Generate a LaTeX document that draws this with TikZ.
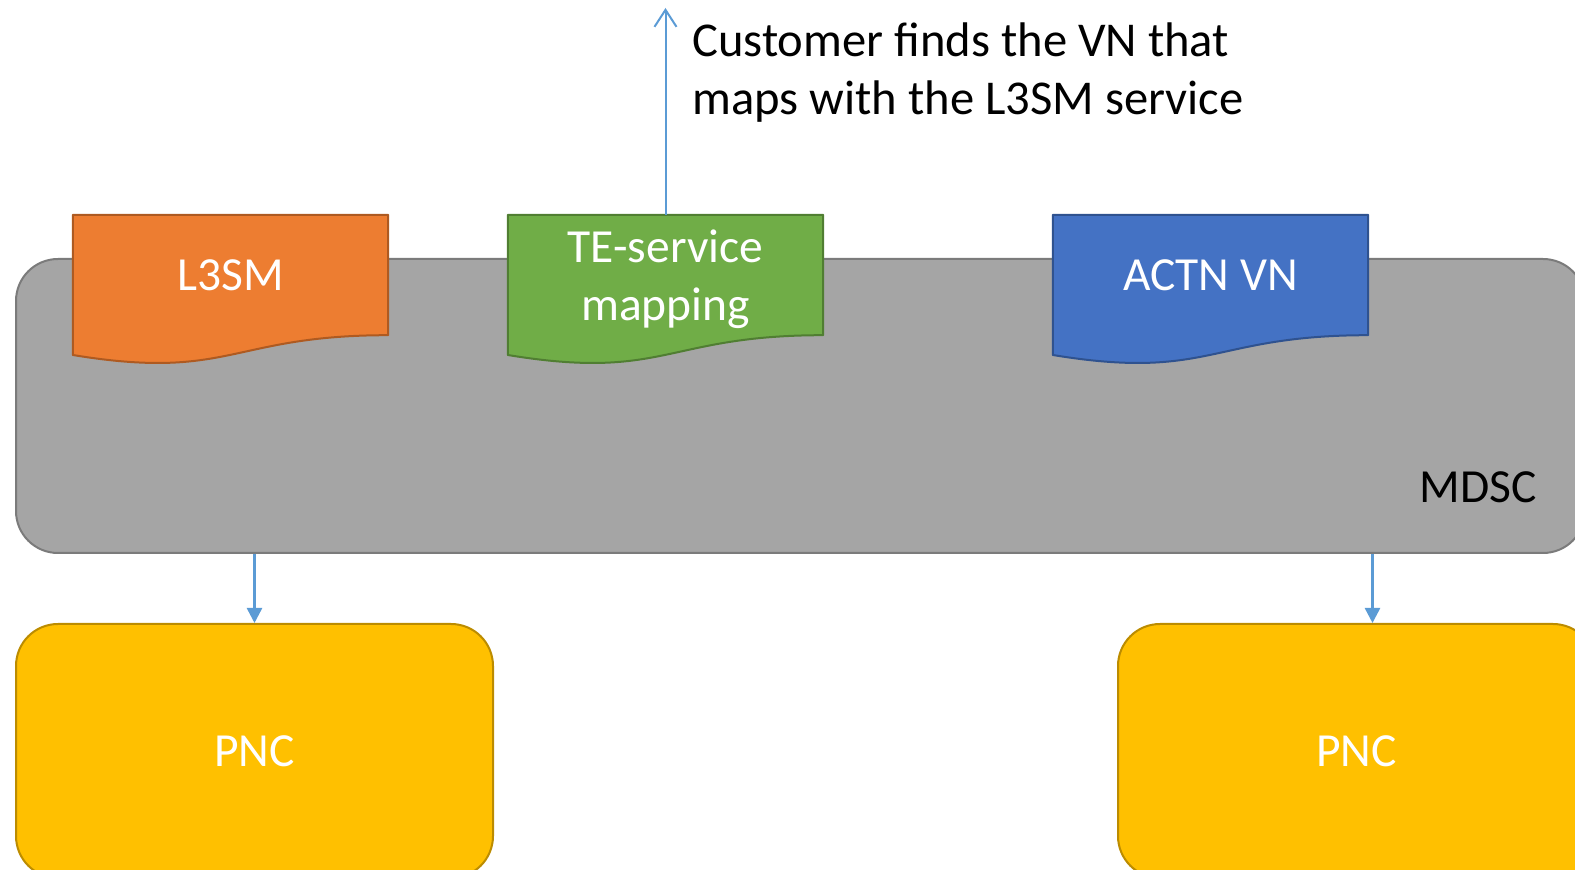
\documentclass[tikz,border=0pt]{standalone}
\usepackage{fontspec}
\setmainfont{Carlito}
\usepackage{tikz}
\usetikzlibrary{arrows.meta,backgrounds,positioning}

\definecolor{mdscgray}{HTML}{A5A5A5}
\definecolor{mdscline}{HTML}{7B7B7B}
\definecolor{docorange}{HTML}{ED7D31}
\definecolor{docorangeline}{HTML}{AE5A21}
\definecolor{docgreen}{HTML}{70AD47}
\definecolor{docgreenline}{HTML}{507E32}
\definecolor{docblue}{HTML}{4472C4}
\definecolor{docblueline}{HTML}{2F528F}
\definecolor{pncyellow}{HTML}{FFC000}
\definecolor{pncline}{HTML}{BC8C00}
\definecolor{arrowblue}{HTML}{5B9BD5}

% wavy document outline around a named node (#1), fill #2, border #3
\newcommand{\docpath}[3]{%
	\draw [fill=#2, draw=#3, line width=2pt, line join=round]
		(#1.north west) -- (#1.north east) -- (#1.south east)
		.. controls (#1.south) and ([yshift=-45.8pt]#1.south) .. ([yshift=-19.8pt]#1.south west) -- cycle;}

\begin{document}
\begin{tikzpicture}
	[x=1pt, y=1pt, font=\fontsize{47.5}{58}\selectfont,
	block/.style	= {rectangle, rounded corners=42pt, line width=2pt, inner sep=0pt},
	doc/.style		= {rectangle, minimum width=315pt, minimum height=120pt, inner sep=0pt, text depth=0pt, text=white, align=center},
	down/.style		= {-{Triangle[length=15pt,width=15pt]}, line width=2.5pt, draw=arrowblue},
	up/.style		= {-{Straight Barb[length=17pt,width=22pt]}, line width=2pt, draw=arrowblue}]
	
	\useasboundingbox (0,0) rectangle (1575,870);
	
	\node at (230.5, 595)	[doc]	(l3sm)	{L3SM};
	\node at (665.5, 595)	[doc]	(tesm)	{TE-service\\mapping};
	\node at (1210.5, 595)	[doc]	(vn)	{ACTN VN};
	
	\begin{scope}[on background layer]
		\node at (800.5, 464)	[block, fill=mdscgray, draw=mdscline, minimum width=1569pt, minimum height=294pt]	(mdsc)	{};
		\docpath{l3sm}{docorange}{docorangeline}
		\docpath{tesm}{docgreen}{docgreenline}
		\docpath{vn}{docblue}{docblueline}
	\end{scope}
	
	\node at (1537, 367)	[anchor=base east, inner sep=0pt]	(mdsclabel)	{MDSC};
	
	\node at (254.5, 119)	[block, fill=pncyellow, draw=pncline, minimum width=477pt, minimum height=254pt, text=white]	(pncl)	{PNC};
	\node at (1356.5, 119)	[block, fill=pncyellow, draw=pncline, minimum width=477pt, minimum height=254pt, text=white]	(pncr)	{PNC};
	\coordinate (pncrin) at ([xshift=16pt]pncr.north);
	
	\node at (692, 847)	[anchor=north west, align=left, inner sep=0pt, font=\fontsize{48.6}{58}\selectfont]	(cust)	{Customer finds the VN that\\maps with the L3SM service};
	\coordinate (custtop) at (665.5, 862);
	
	\draw [up] (tesm.north) -- (custtop);
	\draw [down] (mdsc.south -| pncl.north) -- (pncl.north);
	\draw [down] (mdsc.south -| pncrin) -- (pncrin);
	
\end{tikzpicture}
\end{document}
